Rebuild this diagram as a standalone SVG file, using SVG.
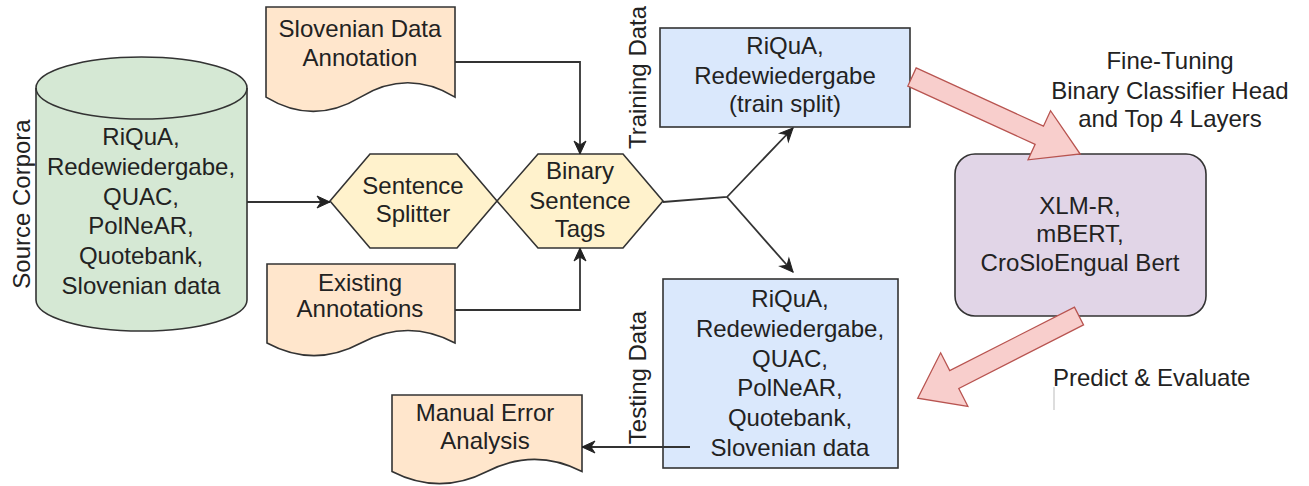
<svg xmlns="http://www.w3.org/2000/svg" width="1309" height="486" viewBox="0 0 1309 486">
<style>
text{font-family:"Liberation Sans",Arial,Helvetica,sans-serif;font-size:24px;fill:#222}
.c{text-anchor:middle}
.shape{stroke:#333;stroke-width:1.6}
.conn{fill:none;stroke:#333;stroke-width:1.8}
.fat{fill:#f8cecc;stroke:#b85450;stroke-width:1.3}
</style>
<defs>
<marker id="arr" markerUnits="userSpaceOnUse" markerWidth="16" markerHeight="16" viewBox="-14 -8 16 16" refX="0" refY="0" orient="auto" overflow="visible">
<path d="M0,0 L-13,-6 L-9,0 L-13,6 Z" fill="#222" stroke="#222" stroke-width="1"/>
</marker>
</defs>
<rect width="1309" height="486" fill="#fff"/>

<g id="source-corpora">
<path class="shape" fill="#d5e8d4" d="M36,88 A105.5,31 0 0 1 247,88 V300 A105.5,31 0 0 1 36,300 Z"/>
<path class="shape" fill="none" d="M36,88 A105.5,31 0 0 0 247,88"/>
<text class="c" x="141" y="144.5">RiQuA,</text>
<text class="c" x="141" y="174.5">Redewiedergabe,</text>
<text class="c" x="141" y="204.5">QUAC,</text>
<text class="c" x="141" y="234">PolNeAR,</text>
<text class="c" x="141" y="263.5">Quotebank,</text>
<text class="c" x="141" y="293.5">Slovenian data</text>
<text class="c" transform="translate(30,204) rotate(-90)" x="0" y="0">Source Corpora</text>
</g>

<g id="slovenian-annotation">
<path class="shape" fill="#ffe6cc" d="M266,7 H455 V97.1 Q407.75,68.5 360.5,97.1 Q313.25,125.7 266,97.1 Z"/>
<text class="c" x="360" y="36.5">Slovenian Data</text>
<text class="c" x="360" y="65.5">Annotation</text>
</g>

<g id="existing-annotations">
<path class="shape" fill="#ffe6cc" d="M267,264 H455 V343 Q408,318 361,343 Q314,368.2 267,343 Z"/>
<text class="c" x="360" y="290.5">Existing</text>
<text class="c" x="360" y="316.5">Annotations</text>
</g>

<g id="sentence-splitter">
<polygon class="shape" fill="#fff2cc" points="330,201 370,154 457,154 497,201 457,248 370,248"/>
<text class="c" x="413" y="193.5">Sentence</text>
<text class="c" x="413" y="221.5">Splitter</text>
</g>

<g id="binary-tags">
<polygon class="shape" fill="#fff2cc" points="497,201 538,154 623,154 663,201 623,248 538,248"/>
<text class="c" x="580" y="178.5">Binary</text>
<text class="c" x="580" y="208.5">Sentence</text>
<text class="c" x="580" y="236.5">Tags</text>
</g>

<g id="training-data">
<rect class="shape" fill="#dae8fc" x="660" y="28" width="250" height="99"/>
<text class="c" x="785" y="53.5">RiQuA,</text>
<text class="c" x="785" y="83.5">Redewiedergabe</text>
<text class="c" x="785" y="111.5">(train split)</text>
<text class="c" transform="translate(646,77.5) rotate(-90)" x="0" y="0">Training Data</text>
</g>

<g id="testing-data">
<rect class="shape" fill="#dae8fc" x="663" y="279" width="235" height="189"/>
<text class="c" x="790" y="306.5">RiQuA,</text>
<text class="c" x="790" y="336.5">Redewiedergabe,</text>
<text class="c" x="790" y="366.5">QUAC,</text>
<text class="c" x="790" y="395.5">PolNeAR,</text>
<text class="c" x="790" y="425.5">Quotebank,</text>
<text class="c" x="790" y="455.5">Slovenian data</text>
<text class="c" transform="translate(646,377.5) rotate(-90)" x="0" y="0">Testing Data</text>
</g>

<g id="manual-error-analysis">
<path class="shape" fill="#ffe6cc" d="M392,395 H582 V471.5 Q534.5,447.2 487,471.5 Q439.5,495.8 392,471.5 Z"/>
<text class="c" x="485" y="420.5">Manual Error</text>
<text class="c" x="485" y="448.5">Analysis</text>
</g>

<g id="models">
<rect class="shape" fill="#e1d5e7" x="955" y="154" width="251" height="162" rx="20" ry="20"/>
<text class="c" x="1080" y="213.5">XLM-R,</text>
<text class="c" x="1080" y="241.5">mBERT,</text>
<text class="c" x="1080" y="270.5">CroSloEngual Bert</text>
</g>

<g id="connectors">
<path class="conn" d="M247,202 H330" marker-end="url(#arr)"/>
<path class="conn" d="M455,62 H580 V154" marker-end="url(#arr)"/>
<path class="conn" d="M455,310 H580 V248" marker-end="url(#arr)"/>
<path class="conn" d="M663,202 L727,197 L793,128" marker-end="url(#arr)"/>
<path class="conn" d="M727,197 L793,272" marker-end="url(#arr)"/>
<path class="conn" d="M690,447 H582" marker-end="url(#arr)"/>
<polygon class="fat" transform="translate(912,77) rotate(24.6)" points="0,-10 140,-10 140,-27 185,0 140,27 140,10 0,10"/>
<polygon class="fat" transform="translate(1079,316) rotate(153)" points="0,-10 140,-10 140,-30 181,0 140,30 140,10 0,10"/>
</g>

<g id="labels">
<text class="c" x="1170" y="68.5">Fine-Tuning</text>
<text class="c" x="1170" y="98.5">Binary Classifier Head</text>
<text class="c" x="1170" y="126.5">and Top 4 Layers</text>
<text x="1053" y="385.5">Predict &amp; Evaluate</text>
<line x1="1054" y1="387" x2="1054" y2="410" stroke="#bbb" stroke-width="1"/>
</g>
</svg>
